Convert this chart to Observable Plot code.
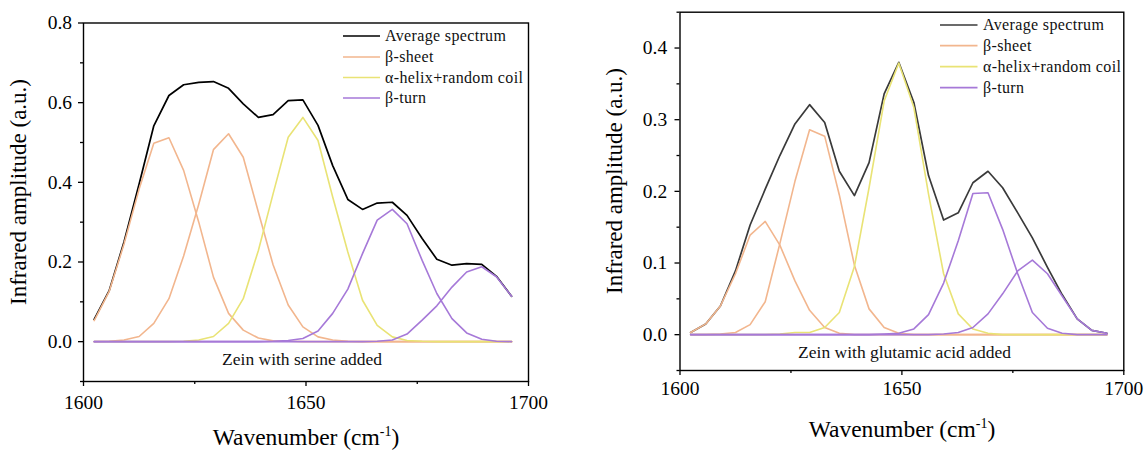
<!DOCTYPE html>
<html><head><meta charset="utf-8">
<script src="https://cdn.jsdelivr.net/npm/d3@7"></script>
<script src="https://cdn.jsdelivr.net/npm/@observablehq/plot@0.6"></script>
<style>
body{margin:0;background:#fff;}
#wrap{position:relative;width:1144px;height:450px;font-family:"Liberation Serif","Tinos","Times New Roman","DejaVu Serif",serif;}
#wrap svg{position:absolute;top:0;overflow:visible;}
</style></head><body><div id="wrap"></div>
<script>
// ---- data ----
const wavenumber = [1602.4, 1605.8, 1609.1, 1612.5, 1615.8, 1619.2, 1622.5, 1625.9, 1629.2, 1632.6, 1635.9, 1639.3, 1642.6, 1646.0, 1649.3, 1652.7, 1656.0, 1659.4, 1662.7, 1666.0, 1669.4, 1672.7, 1676.1, 1679.4, 1682.8, 1686.1, 1689.5, 1692.8, 1696.2];
const seriesNames = ["Average spectrum", "β-sheet", "α-helix+random coil", "β-turn"];

const serineAverage = [0.056, 0.129, 0.250, 0.396, 0.542, 0.618, 0.645, 0.651, 0.653, 0.636, 0.597, 0.563, 0.570, 0.605, 0.607, 0.543, 0.442, 0.357, 0.332, 0.348, 0.350, 0.317, 0.259, 0.207, 0.192, 0.196, 0.194, 0.164, 0.114];
const serineSheetA = [0.053, 0.127, 0.245, 0.383, 0.498, 0.512, 0.430, 0.300, 0.162, 0.071, 0.029, 0.009, 0.002, 0.001, 0, 0, 0, 0, 0, 0, 0, 0, 0, 0, 0, 0, 0, 0, 0];
const serineSheetB = [0, 0.001, 0.004, 0.013, 0.046, 0.108, 0.215, 0.345, 0.482, 0.522, 0.463, 0.325, 0.193, 0.092, 0.037, 0.012, 0.004, 0.001, 0, 0, 0, 0, 0, 0, 0, 0, 0, 0, 0];
const serineHelix = [0, 0, 0, 0, 0, 0, 0.001, 0.004, 0.013, 0.046, 0.108, 0.229, 0.371, 0.513, 0.563, 0.505, 0.363, 0.225, 0.104, 0.041, 0.012, 0.003, 0.001, 0, 0, 0, 0, 0, 0];
const serineTurnA = [0, 0, 0, 0, 0, 0, 0, 0, 0, 0, 0, 0, 0.001, 0.003, 0.008, 0.027, 0.071, 0.132, 0.221, 0.305, 0.332, 0.296, 0.204, 0.121, 0.058, 0.022, 0.006, 0.001, 0];
const serineTurnB = [0, 0, 0, 0, 0, 0, 0, 0, 0, 0, 0, 0, 0, 0, 0, 0, 0, 0, 0, 0.001, 0.004, 0.019, 0.054, 0.090, 0.137, 0.175, 0.188, 0.163, 0.114];

const glutamicAverage = [0.003, 0.015, 0.040, 0.089, 0.153, 0.203, 0.250, 0.294, 0.321, 0.296, 0.228, 0.194, 0.240, 0.336, 0.380, 0.324, 0.222, 0.160, 0.170, 0.212, 0.228, 0.205, 0.170, 0.135, 0.094, 0.056, 0.022, 0.006, 0.002];
const glutamicSheetA = [0.003, 0.015, 0.040, 0.085, 0.139, 0.158, 0.125, 0.075, 0.034, 0.010, 0.002, 0, 0, 0, 0, 0, 0, 0, 0, 0, 0, 0, 0, 0, 0, 0, 0, 0, 0];
const glutamicSheetB = [0, 0, 0.001, 0.003, 0.014, 0.046, 0.127, 0.214, 0.286, 0.277, 0.195, 0.097, 0.036, 0.010, 0.002, 0, 0, 0, 0, 0, 0, 0, 0, 0, 0, 0, 0, 0, 0];
const glutamicHelix = [0, 0, 0, 0, 0, 0, 0.001, 0.003, 0.003, 0.010, 0.031, 0.095, 0.205, 0.326, 0.379, 0.317, 0.196, 0.085, 0.029, 0.008, 0.002, 0, 0, 0, 0, 0, 0, 0, 0];
const glutamicTurnA = [0, 0, 0, 0, 0, 0, 0, 0, 0, 0, 0, 0, 0, 0.001, 0.002, 0.008, 0.028, 0.072, 0.131, 0.197, 0.198, 0.147, 0.085, 0.031, 0.009, 0.002, 0, 0, 0];
const glutamicTurnB = [0, 0, 0, 0, 0, 0, 0, 0, 0, 0, 0, 0, 0, 0, 0, 0, 0, 0.001, 0.003, 0.010, 0.029, 0.057, 0.089, 0.104, 0.085, 0.054, 0.022, 0.006, 0.002];

const xTicks = [1600, 1650, 1700];
const xMinorTicks = [1625, 1675];
const serineYTicks = [0, 0.2, 0.4, 0.6, 0.8];
const serineYMinor = [-0.1, 0.1, 0.3, 0.5, 0.7];
const glutamicYTicks = [0, 0.1, 0.2, 0.3, 0.4];
const glutamicYMinor = [-0.05, 0.05, 0.15, 0.25, 0.35, 0.45];
const serineNote = "Zein with serine added";
const glutamicNote = "Zein with glutamic acid added";

// ---- drawing ----
const FONT = '"Liberation Serif", Tinos, "Times New Roman", "DejaVu Serif", serif';
const compColors = ["#f2b68e", "#e9e375", "#a679d8"];

function drawPanel(cfg) {
  const line = (vals, color, w) => Plot.line(
    wavenumber.map((x, i) => ({x, y: vals[i]})),
    {x: "x", y: "y", stroke: color, strokeWidth: w, strokeLinejoin: "round"});
  const svg = Plot.plot({
    width: cfg.width, height: 450,
    marginLeft: cfg.mL, marginRight: cfg.mR, marginTop: cfg.mT, marginBottom: cfg.mB,
    x: {domain: [1600, 1700], label: null},
    y: {domain: cfg.yDomain, label: null},
    style: {fontFamily: FONT, background: "transparent", color: "#000", overflow: "visible"},
    marks: [
      Plot.axisX({ticks: xTicks, tickSize: 5, tickPadding: cfg.xPad, fontSize: 19.5, tickFormat: "d", label: null, strokeWidth: 1.3}),
      Plot.axisX({ticks: xMinorTicks, tickSize: 3, text: null, label: null, strokeWidth: 1.3}),
      Plot.axisY({ticks: cfg.yTicks, tickSize: 5, tickPadding: cfg.yPad, fontSize: 19.5, tickFormat: d3.format(".1f"), label: null, strokeWidth: 1.3}),
      Plot.axisY({ticks: cfg.yMinor, tickSize: 3, text: null, label: null, strokeWidth: 1.3}),
      line(cfg.avg, cfg.avgColor, 1.7),
      line(cfg.sheetA, compColors[0], 1.6),
      line(cfg.sheetB, compColors[0], 1.6),
      line(cfg.helix, compColors[1], 1.6),
      line(cfg.turnA, compColors[2], 1.6),
      line(cfg.turnB, compColors[2], 1.6),
      Plot.text([cfg.note], {frameAnchor: "bottom", lineAnchor: "middle", dx: cfg.noteDx, dy: cfg.noteDy, fontSize: 17.5, fill: "#111"}),
      Plot.frame({stroke: "#000", strokeWidth: 1.4})
    ]
  });
  const s = d3.select(svg).style("left", cfg.left + "px").style("font-family", FONT);
  s.selectAll("text").style("font-family", FONT);
  // x axis title with superscript
  const xt = s.append("text").attr("x", cfg.xTitle[0]).attr("y", cfg.xTitle[1])
    .attr("text-anchor", "middle").attr("font-size", 23.5).style("font-family", FONT).attr("fill", "#000");
  xt.append("tspan").text("Wavenumber (cm");
  xt.append("tspan").attr("font-size", 14).attr("dy", -9).text("-1");
  xt.append("tspan").attr("dy", 9).text(")");
  // y axis title
  s.append("text").attr("transform", `translate(${cfg.yTitle[0]},${cfg.yTitle[1]}) rotate(-90)`)
    .attr("text-anchor", "middle").attr("dy", "0.33em").attr("font-size", 23)
    .style("font-family", FONT).attr("fill", "#000").text("Infrared amplitude (a.u.)");
  // legend
  const lg = s.append("g");
  const colors = [cfg.avgColor, ...compColors];
  seriesNames.forEach((name, i) => {
    const y = cfg.legendRows[i];
    lg.append("line").attr("x1", cfg.legendX[0]).attr("x2", cfg.legendX[1]).attr("y1", y).attr("y2", y)
      .attr("stroke", colors[i]).attr("stroke-width", 1.7);
    lg.append("text").attr("x", cfg.legendX[2]).attr("y", y).attr("dy", "0.33em")
      .attr("text-anchor", "start")
      .attr("font-size", 16).attr("letter-spacing", "0.35px").style("font-family", FONT).attr("fill", "#111").text(name);
  });
  document.getElementById("wrap").appendChild(svg);
}

drawPanel({
  left: 0, width: 560, mL: 83, mR: 32, mT: 22.5, mB: 69,
  yDomain: [-0.1, 0.8], yTicks: serineYTicks, yMinor: serineYMinor, xPad: 8.3, yPad: 6.4,
  avg: serineAverage, avgColor: "#000000",
  sheetA: serineSheetA, sheetB: serineSheetB, helix: serineHelix, turnA: serineTurnA, turnB: serineTurnB,
  note: serineNote, noteDx: -4, noteDy: -21.7,
  xTitle: [306, 445], yTitle: [18, 192],
  legendX: [343, 380, 385], legendRows: [36, 57, 77.5, 98]
});
drawPanel({
  left: 560, width: 584, mL: 119.5, mR: 20.7, mT: 11.7, mB: 80,
  yDomain: [-0.05, 0.45], yTicks: glutamicYTicks, yMinor: glutamicYMinor, xPad: 5.6, yPad: 7.8,
  avg: glutamicAverage, avgColor: "#3a3a3a",
  sheetA: glutamicSheetA, sheetB: glutamicSheetB, helix: glutamicHelix, turnA: glutamicTurnA, turnB: glutamicTurnB,
  note: glutamicNote, noteDx: 2.6, noteDy: -18.3,
  xTitle: [342, 437], yTitle: [54, 181],
  legendX: [380, 417.5, 423], legendRows: [25, 45.7, 66.7, 87.7]
});
</script></body></html>
